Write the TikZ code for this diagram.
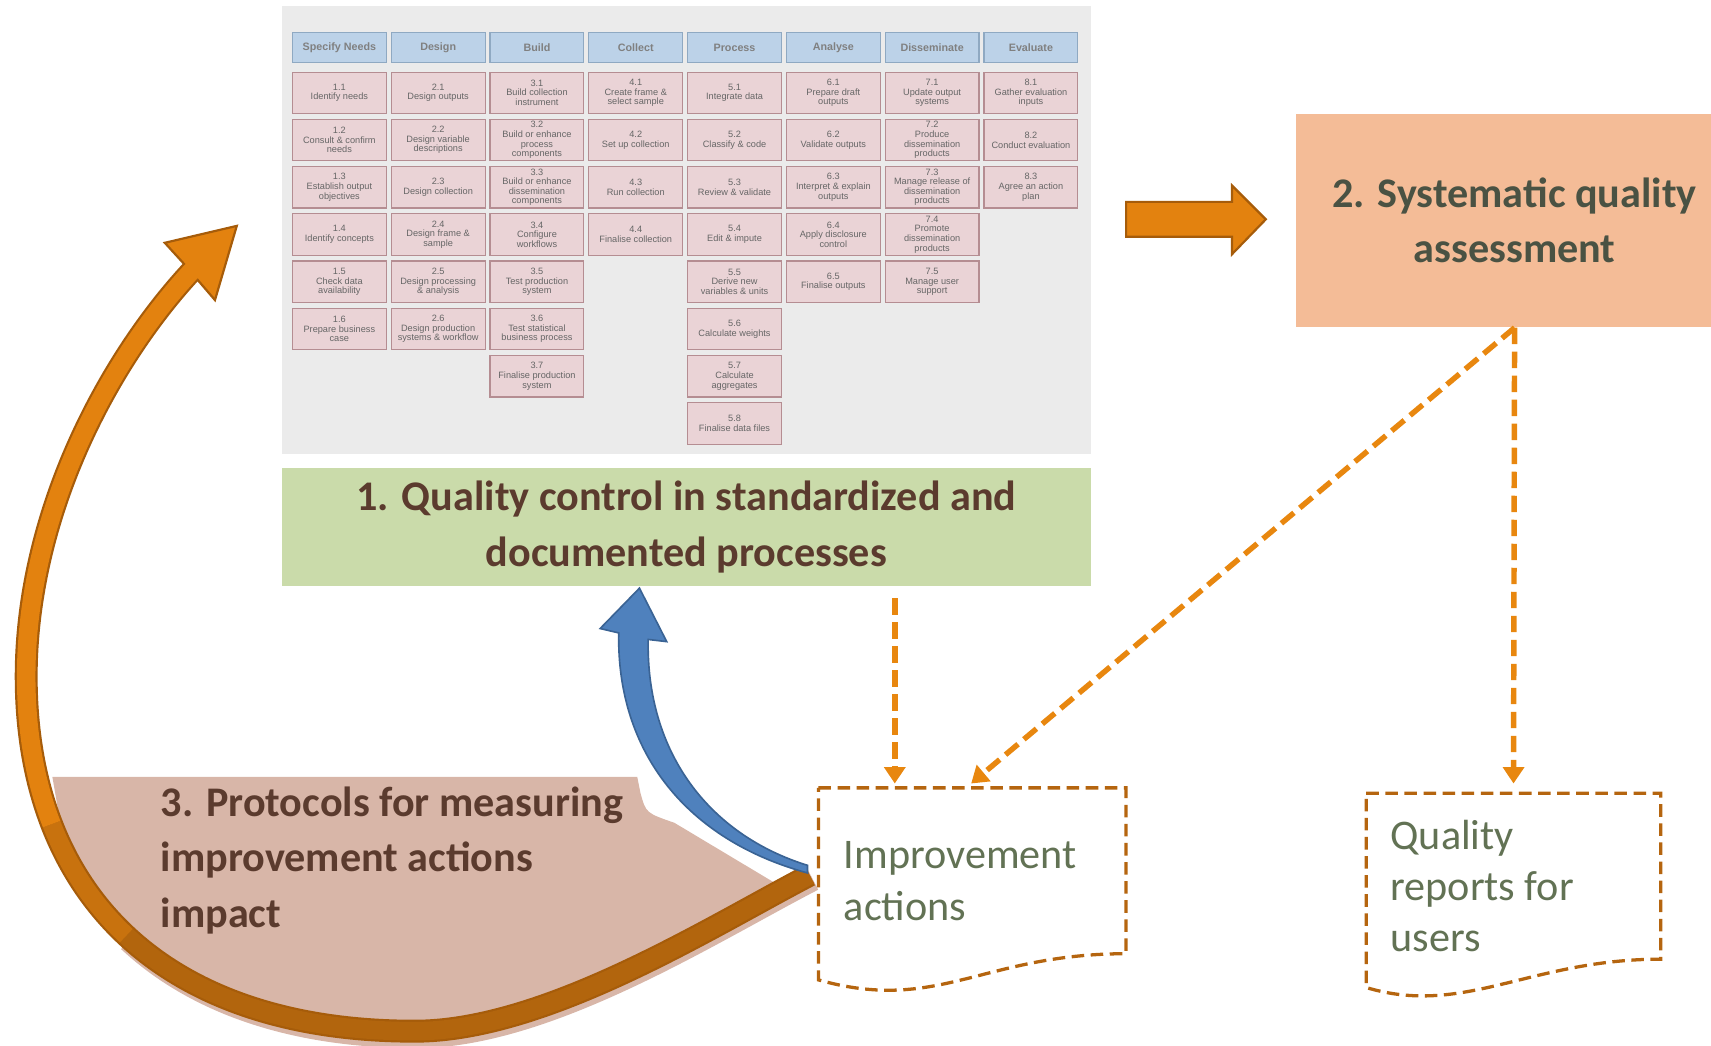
\documentclass[tikz,border=0pt]{standalone}
\usepackage{fontspec}
\setmainfont{Carlito}
\newfontfamily\gridfont{Liberation Sans}
\usepackage{tikz}
\usetikzlibrary{arrows.meta}
\usetikzlibrary{positioning}
\usetikzlibrary{calc}

\definecolor{gridbg}{HTML}{EBEBEB}
\definecolor{phasefill}{HTML}{BCD2E8}
\definecolor{phaseline}{HTML}{8FA9C2}
\definecolor{stepfill}{HTML}{EAD3D6}
\definecolor{stepline}{HTML}{B58D92}
\definecolor{qcgreen}{HTML}{CADBAA}
\definecolor{qapeach}{HTML}{F4BC97}
\definecolor{protofill}{HTML}{D8B6A8}
\definecolor{headbrown}{HTML}{5B3B2E}
\definecolor{headolive}{HTML}{4A5243}
\definecolor{doctext}{HTML}{627254}
\definecolor{docline}{HTML}{B5650F}
\definecolor{dashorange}{HTML}{E8870F}
\definecolor{arcorange}{HTML}{E3820F}
\definecolor{arcbrown}{HTML}{B2650D}
\definecolor{arcedge}{HTML}{A65C0A}
\definecolor{impblue}{HTML}{4F81BD}
\definecolor{impblueline}{HTML}{3A6394}

\tikzset{%
  phase/.style = {rectangle, draw=phaseline, fill=phasefill, line width=0.6pt, minimum width=1.72cm, minimum height=0.54cm, inner sep=0.5pt, font=\gridfont\bfseries\fontsize{5.6}{6}\selectfont, text=black!50},
  gstep/.style = {rectangle, draw=stepline, fill=stepfill, line width=0.6pt, minimum width=1.72cm, minimum height=0.76cm, inner sep=0.5pt, align=center, font=\gridfont\fontsize{4.8}{5}\selectfont, text=black!60},
  headtext/.style = {font=\bfseries\fontsize{22}{29}\selectfont, align=center},
  qcbox/.style = {headtext, rectangle, fill=qcgreen, text=headbrown, minimum width=14.84cm, minimum height=2.16cm},
  qabox/.style = {headtext, rectangle, fill=qapeach, text=headolive, minimum width=8cm, minimum height=3.92cm},
  doc/.style = {rectangle, outer sep=0pt, inner sep=0pt},
  doctxt/.style = {font=\fontsize{22}{26.7}\selectfont, text=doctext, align=left, inner sep=0pt, anchor=west},
  docedge/.style = {draw=docline, fill=white, line width=0.06cm, dash pattern=on 0.23cm off 0.12cm},
  qcarrow/.style = {dashorange, line width=0.1cm, dash pattern=on 0.3cm off 0.14cm, -{Triangle[width=0.38cm,length=0.3cm]}},
  blockarrow/.style = {fill=arcorange, draw=arcedge, line width=0.04cm}
}

\begin{document}
\begin{tikzpicture}[x=0.02cm, y=-0.02cm]
  \clip (0,0) rectangle (1568,958);

  % GSBPM grid
  \node (gsbpm) [rectangle, fill=gridbg, minimum width=14.84cm, minimum height=8.22cm, inner sep=0pt] at (629,210.5) {};
  \begin{scope}[node distance=0.085cm and 0.07cm]
    \node (p1) [phase] at (311,43.5) {Specify Needs};
    \node (p2) [phase, right=of p1] {Design};
    \node (p3) [phase, right=of p2] {Build};
    \node (p4) [phase, right=of p3] {Collect};
    \node (p5) [phase, right=of p4] {Process};
    \node (p6) [phase, right=of p5] {Analyse};
    \node (p7) [phase, right=of p6] {Disseminate};
    \node (p8) [phase, right=of p7] {Evaluate};

    \node (s11) [gstep, below=0.16cm of p1] {1.1\\Identify needs};
    \node (s12) [gstep, below=of s11] {1.2\\Consult \& confirm\\needs};
    \node (s13) [gstep, below=of s12] {1.3\\Establish output\\objectives};
    \node (s14) [gstep, below=of s13] {1.4\\Identify concepts};
    \node (s15) [gstep, below=of s14] {1.5\\Check data\\availability};
    \node (s16) [gstep, below=of s15] {1.6\\Prepare business\\case};

    \node (s21) [gstep, below=0.16cm of p2] {2.1\\Design outputs};
    \node (s22) [gstep, below=of s21] {2.2\\Design variable\\descriptions};
    \node (s23) [gstep, below=of s22] {2.3\\Design collection};
    \node (s24) [gstep, below=of s23] {2.4\\Design frame \&\\sample};
    \node (s25) [gstep, below=of s24] {2.5\\Design processing\\\& analysis};
    \node (s26) [gstep, below=of s25] {2.6\\Design production\\systems \& workflow};

    \node (s31) [gstep, below=0.16cm of p3] {3.1\\Build collection\\instrument};
    \node (s32) [gstep, below=of s31] {3.2\\Build or enhance\\process\\components};
    \node (s33) [gstep, below=of s32] {3.3\\Build or enhance\\dissemination\\components};
    \node (s34) [gstep, below=of s33] {3.4\\Configure\\workflows};
    \node (s35) [gstep, below=of s34] {3.5\\Test production\\system};
    \node (s36) [gstep, below=of s35] {3.6\\Test statistical\\business process};
    \node (s37) [gstep, below=of s36] {3.7\\Finalise production\\system};

    \node (s41) [gstep, below=0.16cm of p4] {4.1\\Create frame \&\\select sample};
    \node (s42) [gstep, below=of s41] {4.2\\Set up collection};
    \node (s43) [gstep, below=of s42] {4.3\\Run collection};
    \node (s44) [gstep, below=of s43] {4.4\\Finalise collection};

    \node (s51) [gstep, below=0.16cm of p5] {5.1\\Integrate data};
    \node (s52) [gstep, below=of s51] {5.2\\Classify \& code};
    \node (s53) [gstep, below=of s52] {5.3\\Review \& validate};
    \node (s54) [gstep, below=of s53] {5.4\\Edit \& impute};
    \node (s55) [gstep, below=of s54] {5.5\\Derive new\\variables \& units};
    \node (s56) [gstep, below=of s55] {5.6\\Calculate weights};
    \node (s57) [gstep, below=of s56] {5.7\\Calculate\\aggregates};
    \node (s58) [gstep, below=of s57] {5.8\\Finalise data files};

    \node (s61) [gstep, below=0.16cm of p6] {6.1\\Prepare draft\\outputs};
    \node (s62) [gstep, below=of s61] {6.2\\Validate outputs};
    \node (s63) [gstep, below=of s62] {6.3\\Interpret \& explain\\outputs};
    \node (s64) [gstep, below=of s63] {6.4\\Apply disclosure\\control};
    \node (s65) [gstep, below=of s64] {6.5\\Finalise outputs};

    \node (s71) [gstep, below=0.16cm of p7] {7.1\\Update output\\systems};
    \node (s72) [gstep, below=of s71] {7.2\\Produce\\dissemination\\products};
    \node (s73) [gstep, below=of s72] {7.3\\Manage release of\\dissemination\\products};
    \node (s74) [gstep, below=of s73] {7.4\\Promote\\dissemination\\products};
    \node (s75) [gstep, below=of s74] {7.5\\Manage user\\support};

    \node (s81) [gstep, below=0.16cm of p8] {8.1\\Gather evaluation\\inputs};
    \node (s82) [gstep, below=of s81] {8.2\\Conduct evaluation};
    \node (s83) [gstep, below=of s82] {8.3\\Agree an action\\plan};
  \end{scope}

  % the three boxes
  \node (qc) [qcbox] at (629,483) {1. Quality control in standardized and\\documented processes};
  \node (qa) [qabox] at (1388,202) {2. Systematic quality\\assessment};
  \draw[blockarrow] (1032,185) -- (1129,185) -- (1129,170) -- (1160,201) -- (1129,233) -- (1129,217) -- (1032,217) -- cycle;

  % region 3 and its loop arrow
  \draw[protofill, line width=0.42cm] (745,806) .. controls (652,854) and (502,950) .. (382,950) .. controls (267,950) and (178,918) .. (118,862);
  \begin{scope}
    \clip (48,712) -- (584,712) -- (587,727) .. controls (592,745) .. (618,754) -- (745,830) -- (770,980) -- (100,980) -- (100,870) .. controls (65,810) .. (48,712) -- cycle;
    \fill[protofill] (742,802) .. controls (650,850) and (500,945) .. (380,945) .. controls (265,945) and (176,913.75) .. (115.75,857.5) .. controls (55.5,801.25) and (24,720) .. (24,620) -- (24,700) -- (760,700) -- cycle;
  \end{scope}
  \node (proto) [headtext, text=headbrown, align=left, inner sep=0pt, anchor=west] at (147,788.5) {3. Protocols for measuring\\improvement actions\\impact};

  \coordinate (loop-end) at (742,802);
  \coordinate (loop-head) at (175,249);
  \draw[arcedge, line width=0.42cm] (loop-end) .. controls (650,850) and (500,945) .. (380,945) .. controls (265,945) and (176,913.75) .. (115.75,857.5) .. controls (55.5,801.25) and (24,720) .. (24,620) .. controls (24,470) and (100,330) .. (loop-head);
  \draw[blockarrow] (167,240) -- (151,222.5) -- (217,207) -- (197,275) -- (182,257.5) -- cycle;
  \draw[arcbrown, line width=0.34cm] (loop-end) .. controls (650,850) and (500,945) .. (380,945) .. controls (265,945) and (176,913.75) .. (115.75,857.5);
  \draw[arcbrown!55!arcorange, line width=0.34cm] (115.75,857.5) .. controls (85.6,829.4) and (62.7,795) .. (47.3,755.2);
  \draw[arcorange, line width=0.34cm] (47.3,755.2) .. controls (31.9,715.3) and (24,670) .. (24,620) .. controls (24,470) and (100,330) .. (loop-head) -- (181,243);

  % feedback to quality control
  \draw[fill=impblue, draw=impblueline, line width=0.03cm] (740,800) .. controls (630,770) and (565,690) .. (567,580) -- (550,576) -- (586,539) -- (611,588) -- (594,586) .. controls (592,690) and (650,765) .. (740,793) -- cycle;

  % output documents
  \node (impdoc) [doc, minimum width=5.64cm, minimum height=3.04cm] at (891,798) {};
  \draw[docedge] (impdoc.north west) -- (impdoc.north east) -- (impdoc.south east) .. controls ($(impdoc.south east)+(-132,0)$) and ($(impdoc.south west)+(110,55)$) .. ($(impdoc.south west)+(0,24)$) -- cycle;
  \node (imptxt) [doctxt] at (773,807.5) {Improvement\\actions};

  \node (repdoc) [doc, minimum width=5.4cm, minimum height=3.04cm] at (1387,803) {};
  \draw[docedge] (repdoc.north west) -- (repdoc.north east) -- (repdoc.south east) .. controls ($(repdoc.south east)+(-120,0)$) and ($(repdoc.south west)+(90,53)$) .. ($(repdoc.south west)+(0,26)$) -- cycle;
  \node (reptxt) [doctxt] at (1274,812) {Quality\\reports for\\users};

  \coordinate (imp-in1) at (820,718);
  \coordinate (imp-in2) at (890,718);
  \draw[qcarrow] ($(qc.south -| imp-in1)+(0,11)$) -- (imp-in1);
  \draw[qcarrow] (qa.south) -- (imp-in2);
  \draw[qcarrow] (qa.south) -- ($(repdoc.north)+(0,-9)$);
\end{tikzpicture}
\end{document}
